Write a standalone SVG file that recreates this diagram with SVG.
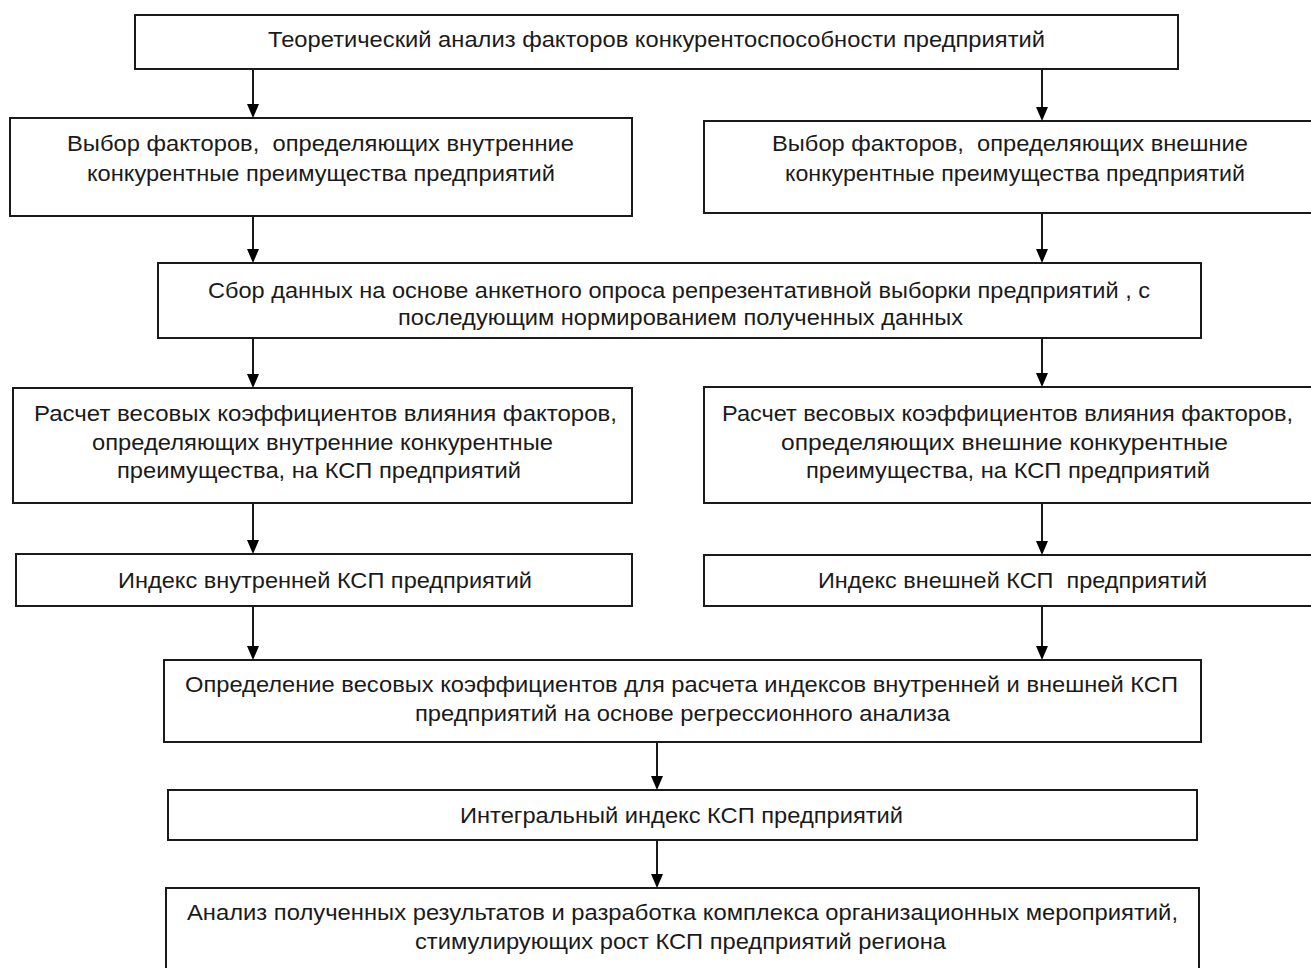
<svg xmlns="http://www.w3.org/2000/svg" width="1311" height="968" viewBox="0 0 1311 968">
<style>
.box{fill:#ffffff;stroke:#1a1a1a;stroke-width:2}
.t{font-family:"Liberation Sans",Arial,sans-serif;font-size:22.5px;fill:#1a1a1a;white-space:pre}
.c{stroke:#1a1a1a;stroke-width:2;fill:none}
.h{fill:#000}
</style>
<rect width="1311" height="968" fill="#ffffff"/>
<g id="n1"><rect class="box" x="135" y="15" width="1043" height="54"/>
<text class="t" x="268" y="47" textLength="777" lengthAdjust="spacingAndGlyphs">Теоретический анализ факторов конкурентоспособности предприятий</text></g>
<g id="n2L"><rect class="box" x="10" y="118" width="622" height="98"/>
<text class="t" x="67" y="151" textLength="507" lengthAdjust="spacingAndGlyphs">Выбор факторов,  определяющих внутренние</text>
<text class="t" x="87" y="181" textLength="468" lengthAdjust="spacingAndGlyphs">конкурентные преимущества предприятий</text></g>
<g id="n2R"><rect class="box" x="704" y="121" width="620" height="92"/>
<text class="t" x="772" y="151" textLength="476" lengthAdjust="spacingAndGlyphs">Выбор факторов,  определяющих внешние</text>
<text class="t" x="785" y="181" textLength="460" lengthAdjust="spacingAndGlyphs">конкурентные преимущества предприятий</text></g>
<g id="n3"><rect class="box" x="158" y="263" width="1043" height="75"/>
<text class="t" x="208" y="298" textLength="942" lengthAdjust="spacingAndGlyphs">Сбор данных на основе анкетного опроса репрезентативной выборки предприятий , с</text>
<text class="t" x="398" y="325" textLength="565" lengthAdjust="spacingAndGlyphs">последующим нормированием полученных данных</text></g>
<g id="n4L"><rect class="box" x="13" y="388" width="619" height="115"/>
<text class="t" x="34" y="421" textLength="583" lengthAdjust="spacingAndGlyphs">Расчет весовых коэффициентов влияния факторов,</text>
<text class="t" x="92" y="450" textLength="461" lengthAdjust="spacingAndGlyphs">определяющих внутренние конкурентные</text>
<text class="t" x="117" y="478" textLength="404" lengthAdjust="spacingAndGlyphs">преимущества, на КСП предприятий</text></g>
<g id="n4R"><rect class="box" x="704" y="387" width="620" height="116"/>
<text class="t" x="722" y="421" textLength="571" lengthAdjust="spacingAndGlyphs">Расчет весовых коэффициентов влияния факторов,</text>
<text class="t" x="781" y="450" textLength="447" lengthAdjust="spacingAndGlyphs">определяющих внешние конкурентные</text>
<text class="t" x="806" y="478" textLength="404" lengthAdjust="spacingAndGlyphs">преимущества, на КСП предприятий</text></g>
<g id="n5L"><rect class="box" x="16" y="554" width="616" height="52"/>
<text class="t" x="118" y="588" textLength="414" lengthAdjust="spacingAndGlyphs">Индекс внутренней КСП предприятий</text></g>
<g id="n5R"><rect class="box" x="704" y="555" width="620" height="51"/>
<text class="t" x="818" y="588" textLength="389" lengthAdjust="spacingAndGlyphs">Индекс внешней КСП  предприятий</text></g>
<g id="n6"><rect class="box" x="164" y="660" width="1037" height="82"/>
<text class="t" x="185" y="692" textLength="993" lengthAdjust="spacingAndGlyphs">Определение весовых коэффициентов для расчета индексов внутренней и внешней КСП</text>
<text class="t" x="415" y="721" textLength="535" lengthAdjust="spacingAndGlyphs">предприятий на основе регрессионного анализа</text></g>
<g id="n7"><rect class="box" x="168" y="790" width="1029" height="50"/>
<text class="t" x="460" y="823" textLength="443" lengthAdjust="spacingAndGlyphs">Интегральный индекс КСП предприятий</text></g>
<g id="n8"><rect class="box" x="166" y="888" width="1033" height="100"/>
<text class="t" x="187" y="920" textLength="991" lengthAdjust="spacingAndGlyphs">Анализ полученных результатов и разработка комплекса организационных мероприятий,</text>
<text class="t" x="415" y="949" textLength="531" lengthAdjust="spacingAndGlyphs">стимулирующих рост КСП предприятий региона</text></g>
<g id="connectors">
<path class="c" d="M253,69 V104" /><path class="h" d="M247,104 H259 L253,118 Z"/>
<path class="c" d="M1042,69 V107" /><path class="h" d="M1036,107 H1048 L1042,121 Z"/>
<path class="c" d="M253,216 V249" /><path class="h" d="M247,249 H259 L253,263 Z"/>
<path class="c" d="M1042,213 V249" /><path class="h" d="M1036,249 H1048 L1042,263 Z"/>
<path class="c" d="M253,338 V374" /><path class="h" d="M247,374 H259 L253,388 Z"/>
<path class="c" d="M1042,338 V373" /><path class="h" d="M1036,373 H1048 L1042,387 Z"/>
<path class="c" d="M253,503 V540" /><path class="h" d="M247,540 H259 L253,554 Z"/>
<path class="c" d="M1042,503 V541" /><path class="h" d="M1036,541 H1048 L1042,555 Z"/>
<path class="c" d="M253,606 V646" /><path class="h" d="M247,646 H259 L253,660 Z"/>
<path class="c" d="M1042,606 V646" /><path class="h" d="M1036,646 H1048 L1042,660 Z"/>
<path class="c" d="M657,742 V776" /><path class="h" d="M651,776 H663 L657,790 Z"/>
<path class="c" d="M657,840 V874" /><path class="h" d="M651,874 H663 L657,888 Z"/>
</g>
</svg>
